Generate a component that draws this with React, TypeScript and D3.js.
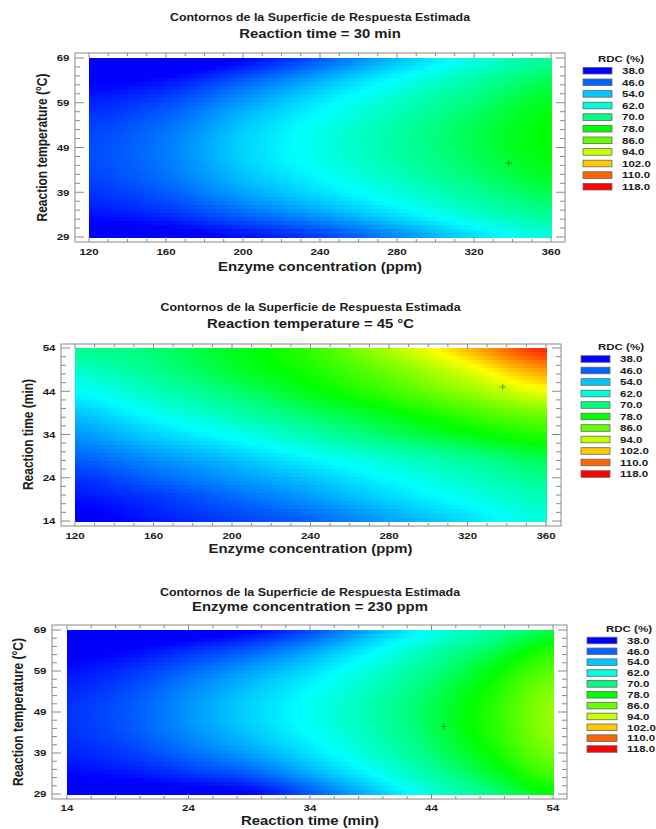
import React, { useMemo } from "react";
import * as d3 from "d3";

// legend levels and colours
const rdcLevels = [38, 46, 54, 62, 70, 78, 86, 94, 102, 110, 118];
const levelColors = ["#0000ff", "#0064ff", "#00c8ff", "#00ffdc", "#00ff80", "#00ff00", "#64ff00", "#c8ff00", "#ffc800", "#ff6400", "#ff0000"];
// shading stops for the surface (legend colours plus pure cyan / yellow)
const shadeStops = [38, 46, 54, 59, 62, 70, 78, 86, 94, 98, 102, 110, 118];
const shadeColors = ["#0000ff", "#0064ff", "#00c8ff", "#00ffff", "#00ffdc", "#00ff80", "#00ff00", "#64ff00", "#c8ff00", "#ffff00", "#ffc800", "#ff6400", "#ff0000"];

// grid positions where the surface was read
const enzymeGrid = [120, 160, 200, 240, 280, 320, 360];
const tempGrid = [29, 34, 39, 44, 49, 54, 59, 64, 69];
const timeGrid = [14, 19, 24, 29, 34, 39, 44, 49, 54];

// tick labels
const enzymeTicks = [120, 160, 200, 240, 280, 320, 360];
const tempTicks = [29, 39, 49, 59, 69];
const timeTicks = [14, 24, 34, 44, 54];

// RDC (%) at reaction time = 30 min ; rows = temperature (29 -> 69), cols = enzyme
const rdcEnzymeTemp = [
  [35.0, 36.0, 39.0, 43.0, 49.0, 56.0, 62.0],
  [39.2, 41.5, 46.1, 50.7, 56.5, 63.0, 68.4],
  [42.1, 45.4, 51.1, 56.3, 62.0, 68.1, 73.3],
  [43.7, 47.5, 54.1, 59.7, 65.5, 71.5, 76.4],
  [44.0, 48.0, 55.0, 61.0, 67.0, 73.0, 78.0],
  [43.0, 46.8, 53.8, 60.2, 66.5, 72.7, 77.9],
  [40.6, 43.9, 50.6, 57.3, 64.0, 70.6, 76.3],
  [37.0, 39.3, 45.3, 52.2, 59.5, 66.7, 72.9],
  [32.0, 33.0, 38.0, 45.0, 53.0, 61.0, 68.0],
];

// RDC (%) at temperature = 45 °C ; rows = time (14 -> 54), cols = enzyme
const rdcEnzymeTime = [
  [36, 40, 43, 46, 51, 56, 62],
  [39, 42, 46, 50, 55, 60, 65],
  [42, 46, 50, 54, 59, 64, 69],
  [46, 50, 54, 59, 64, 69, 74],
  [50, 55, 60, 66, 72, 77, 81],
  [54, 60, 66, 72, 77, 83, 88],
  [59, 65, 71, 77, 83, 90, 97],
  [64, 69, 75, 80, 87, 96, 106],
  [69, 71, 76, 82, 92, 103, 115],
];

// RDC (%) at enzyme = 230 ppm ; rows = temperature (29 -> 69), cols = time
const rdcTimeTemp = [
  [35.0, 35.0, 36.0, 38.0, 45.0, 53.0, 62.0, 70.0, 78.0],
  [38.3, 39.6, 42.2, 45.4, 51.7, 58.8, 67.0, 75.1, 83.6],
  [40.6, 42.8, 46.6, 50.8, 56.4, 62.9, 70.5, 78.6, 87.5],
  [41.8, 44.6, 49.2, 53.9, 59.2, 65.3, 72.5, 80.6, 89.6],
  [42.0, 45.0, 50.0, 55.0, 60.0, 66.0, 73.0, 81.0, 90.0],
  [41.1, 44.1, 49.0, 53.9, 58.9, 65.0, 72.0, 79.8, 88.6],
  [39.1, 41.8, 46.1, 50.8, 55.9, 62.4, 69.5, 77.1, 85.5],
  [36.1, 38.1, 41.5, 45.4, 50.9, 58.0, 65.5, 72.8, 80.6],
  [32.0, 33.0, 35.0, 38.0, 44.0, 52.0, 60.0, 67.0, 74.0],
];

// estimated optimum marked with "+"
const optEnzyme = 338;
const optTemp = 45.5;
const optTime = 45;

const FONT = "'Liberation Sans', Arial, sans-serif";
const SX = 1.24; // the picture is stretched horizontally
const INK = "#1c1c1c";
const FRAME = "#8a8a8a";

const shade = d3.scaleLinear<string>().domain(shadeStops).range(shadeColors).interpolate(d3.interpolateRgb).clamp(true);

const catmull = (p0: number, p1: number, p2: number, p3: number, t: number) =>
  0.5 * (2 * p1 + (-p0 + p2) * t + (2 * p0 - 5 * p1 + 4 * p2 - p3) * t * t + (-p0 + 3 * p1 - 3 * p2 + p3) * t * t * t);

function sampleGrid(grid: number[][], xs: number[], ys: number[], x: number, y: number) {
  const nx = xs.length, ny = ys.length;
  const fx = (x - xs[0]) / (xs[1] - xs[0]);
  const fy = (y - ys[0]) / (ys[1] - ys[0]);
  const ix = Math.max(0, Math.min(nx - 2, Math.floor(fx)));
  const iy = Math.max(0, Math.min(ny - 2, Math.floor(fy)));
  const tx = fx - ix, ty = fy - iy;
  const cl = (i: number, n: number) => Math.max(0, Math.min(n - 1, i));
  const rowVal = (j: number) => {
    const r = grid[cl(j, ny)];
    return catmull(r[cl(ix - 1, nx)], r[ix], r[ix + 1], r[cl(ix + 2, nx)], tx);
  };
  return catmull(rowVal(iy - 1), rowVal(iy), rowVal(iy + 1), rowVal(iy + 2), ty);
}

function Txt({ x, y, size, anchor = "middle", rotate = false, children }: any) {
  const tr = rotate ? `translate(${x},${y}) scale(${SX},1) rotate(-90)` : `translate(${x},${y}) scale(${SX},1)`;
  return (
    <text transform={tr} textAnchor={anchor} dy="0.35em" fontFamily={FONT} fontWeight="bold" fontSize={size} fill={INK}>
      {children}
    </text>
  );
}

function Panel({ cfg }: { cfg: any }) {
  const [px0, px1, py0, py1] = cfg.plot;
  const [fx0, fx1, fy0, fy1] = cfg.frame;
  const x = d3.scaleLinear().domain(cfg.xDomain).range([px0, px1]);
  const y = d3.scaleLinear().domain(cfg.yDomain).range([py1, py0]);
  const midX = (px0 + px1) / 2;

  const cells = useMemo(() => {
    const nx = Math.round((px1 - px0) / 4);
    const ny = Math.round((py1 - py0) / 4);
    const cw = (px1 - px0) / nx, ch = (py1 - py0) / ny;
    const out: any[] = [];
    for (let i = 0; i < nx; i++) {
      for (let j = 0; j < ny; j++) {
        const cx = px0 + i * cw, cy = py0 + j * ch;
        const v = sampleGrid(cfg.grid, cfg.gx, cfg.gy, x.invert(cx + cw / 2), y.invert(cy + ch / 2));
        out.push({ key: `${i}-${j}`, x: cx, y: cy, w: cw + 0.6, h: ch + 0.6, fill: shade(v) });
      }
    }
    return out;
  }, [cfg]);

  const xMinor = d3.range(cfg.xDomain[0], cfg.xDomain[1] + 1e-6, cfg.xMinorStep);
  const yMinor = d3.range(cfg.yDomain[0], cfg.yDomain[1] + 1e-6, cfg.yMinorStep);
  const isMajor = (v: number, ticks: number[]) => ticks.some((t) => Math.abs(t - v) < 1e-6);
  const lg = cfg.legend;

  return (
    <g>
      <Txt x={midX} y={cfg.titleY} size={10}>Contornos de la Superficie de Respuesta Estimada</Txt>
      <Txt x={midX} y={cfg.subY} size={12}>{cfg.subtitle}</Txt>

      <rect x={fx0} y={fy0} width={fx1 - fx0} height={fy1 - fy0} fill="#fff" stroke={FRAME} strokeWidth={1} />
      <g shapeRendering="crispEdges">
        {cells.map((c) => (
          <rect key={c.key} x={c.x} y={c.y} width={c.w} height={c.h} fill={c.fill} />
        ))}
      </g>

      <g stroke={FRAME} strokeWidth={1}>
        {xMinor.map((v) => {
          const len = isMajor(v, cfg.xTicks) ? 5 : 3;
          return (
            <g key={"x" + v}>
              <line x1={x(v)} x2={x(v)} y1={fy0} y2={fy0 + len} />
              <line x1={x(v)} x2={x(v)} y1={fy1} y2={fy1 - len} />
            </g>
          );
        })}
        {yMinor.map((v) => {
          const len = isMajor(v, cfg.yTicks) ? 9 : 5;
          return (
            <g key={"y" + v}>
              <line x1={fx0} x2={fx0 + len} y1={y(v)} y2={y(v)} />
              <line x1={fx1} x2={fx1 - len} y1={y(v)} y2={y(v)} />
            </g>
          );
        })}
      </g>

      {cfg.xTicks.map((v: number) => (
        <Txt key={"xl" + v} x={x(v)} y={cfg.tickLabelY} size={9.3}>{v}</Txt>
      ))}
      {cfg.yTicks.map((v: number) => (
        <Txt key={"yl" + v} x={fx0 - 5.5} y={y(v)} size={9.3} anchor="end">{v}</Txt>
      ))}

      <Txt x={midX} y={cfg.xLabelY} size={12}>{cfg.xLabel}</Txt>
      <Txt x={cfg.yLabelX} y={(py0 + py1) / 2} size={12} rotate>{cfg.yLabel}</Txt>

      <g stroke="#1f5f1f" strokeWidth={0.8} opacity={0.75}>
        <line x1={x(cfg.marker[0]) - 3} x2={x(cfg.marker[0]) + 3} y1={y(cfg.marker[1])} y2={y(cfg.marker[1])} />
        <line x1={x(cfg.marker[0])} x2={x(cfg.marker[0])} y1={y(cfg.marker[1]) - 3} y2={y(cfg.marker[1]) + 3} />
      </g>

      <Txt x={lg.titleX} y={lg.titleY} size={9.3}>RDC (%)</Txt>
      {rdcLevels.map((lv, i) => {
        const cy = lg.firstY + i * lg.step;
        return (
          <g key={"lg" + lv}>
            <rect x={lg.boxX} y={cy - 3.3} width={lg.boxW} height={6.6} fill={levelColors[i]} stroke="#666" strokeWidth={0.8} />
            <Txt x={lg.labelX} y={cy} size={9.3} anchor="start">{d3.format(".1f")(lv)}</Txt>
          </g>
        );
      })}
    </g>
  );
}

const panels = [
  {
    subtitle: "Reaction time = 30 min",
    titleY: 17, subY: 34,
    plot: [89, 551, 58, 237], frame: [75, 565, 53, 242],
    xDomain: [120, 360], yDomain: [29, 69], xTicks: enzymeTicks, yTicks: tempTicks, xMinorStep: 10, yMinorStep: 2,
    xLabel: "Enzyme concentration (ppm)", yLabel: "Reaction temperature (°C)",
    tickLabelY: 252, xLabelY: 267, yLabelX: 42,
    grid: rdcEnzymeTemp, gx: enzymeGrid, gy: tempGrid,
    marker: [optEnzyme, optTemp],
    legend: { titleX: 621, titleY: 59, boxX: 583, boxW: 29, firstY: 70.7, step: 11.6, labelX: 622 },
  },
  {
    subtitle: "Reaction temperature = 45 °C",
    titleY: 307, subY: 323.5,
    plot: [75, 546, 348, 521], frame: [61, 561, 344, 526],
    xDomain: [120, 360], yDomain: [14, 54], xTicks: enzymeTicks, yTicks: timeTicks, xMinorStep: 10, yMinorStep: 2,
    xLabel: "Enzyme concentration (ppm)", yLabel: "Reaction time (min)",
    tickLabelY: 536, xLabelY: 549, yLabelX: 28,
    grid: rdcEnzymeTime, gx: enzymeGrid, gy: timeGrid,
    marker: [optEnzyme, optTime],
    legend: { titleX: 621, titleY: 347, boxX: 581, boxW: 29, firstY: 359, step: 11.5, labelX: 620 },
  },
  {
    subtitle: "Enzyme concentration = 230 ppm",
    titleY: 592, subY: 607,
    plot: [67, 553, 630, 794], frame: [52, 567, 625, 799],
    xDomain: [14, 54], yDomain: [29, 69], xTicks: timeTicks, yTicks: tempTicks, xMinorStep: 2, yMinorStep: 2,
    xLabel: "Reaction time (min)", yLabel: "Reaction temperature (°C)",
    tickLabelY: 808, xLabelY: 821, yLabelX: 18,
    grid: rdcTimeTemp, gx: timeGrid, gy: tempGrid,
    marker: [optTime, optTemp],
    legend: { titleX: 629, titleY: 629, boxX: 587, boxW: 30, firstY: 640.5, step: 10.85, labelX: 627 },
  },
];

export default function App() {
  return (
    <svg width={656} height={829} style={{ position: "absolute", left: 0, top: 0, background: "#fff" }}>
      {panels.map((p, i) => (
        <Panel key={i} cfg={p} />
      ))}
    </svg>
  );
}
